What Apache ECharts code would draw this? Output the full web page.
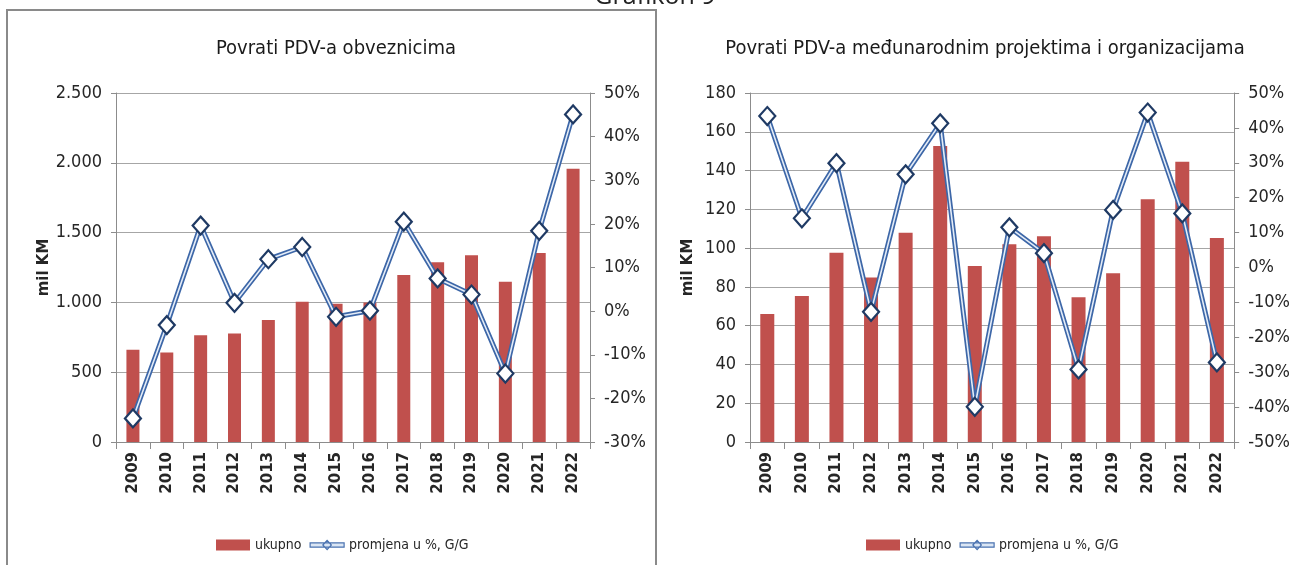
<!DOCTYPE html>
<html><head><meta charset="utf-8">
<script src="https://cdn.jsdelivr.net/npm/echarts@6/dist/echarts.min.js"></script>
<style>html,body{margin:0;padding:0;background:#fff}#c{width:1293px;height:565px}</style>
</head><body><div id="c"></div>
<script>
const years = ['2009','2010','2011','2012','2013','2014','2015','2016','2017','2018','2019','2020','2021','2022'];
const ukupnoObveznici = [660, 642, 764, 778, 874, 1005, 991, 1000, 1196, 1287, 1337, 1148, 1354, 1958];
const promjenaObveznici = [-24.6, -3.2, 19.6, 1.9, 11.9, 14.7, -1.3, 0.1, 20.5, 7.5, 3.8, -14.3, 18.4, 45.1];
const ukupnoProjekti = [66, 75.3, 97.6, 84.9, 107.9, 152.7, 90.8, 102, 106.1, 74.6, 87, 125.2, 144.6, 105.2];
const promjenaProjekti = [43.4, 14.1, 29.9, -12.7, 26.7, 41.3, -39.9, 11.5, 4.1, -29.2, 16.5, 44.4, 15.5, -27.2];
const titleLeft = 'Povrati PDV-a obveznicima';
const titleRight = 'Povrati PDV-a međunarodnim projektima i organizacijama';
const supTitle = 'Grafikon 9';
const unitName = 'mil KM';
const barName = 'ukupno';
const lineName = 'promjena u %, G/G';

const FONT = "'Liberation Sans Narrow', 'DejaVu Sans Condensed', 'Open Sans', sans-serif";
const RED = '#c0504d';
const txt = '#262626';
const axisCol = '#8c8c8c';
const gridCol = '#a6a6a6';
const LINE_ICON = 'path://M0,3 L40,3 L40,8 L0,8 Z M15,5.5 L20,0 L25,5.5 L20,11 Z';

function fmtThousands(v){ return String(v).replace(/\B(?=(\d{3})+(?!\d))/g,'.'); }

function xAxis(gi){
  return {type:'category', gridIndex:gi, data:years, boundaryGap:true,
    axisLine:{lineStyle:{color:axisCol,width:1}},
    axisTick:{show:true, alignWithLabel:false, length:7, lineStyle:{color:axisCol}},
    axisLabel:{rotate:90, margin:10, color:txt, fontSize:15, fontWeight:'bold', fontFamily:"'DejaVu Sans', sans-serif"}};
}
function yLeft(gi,max,interval,gap,fmt){
  return {type:'value', gridIndex:gi, min:0, max:max, interval:interval, position:'left',
    name:unitName, nameLocation:'middle', nameRotate:90, nameGap:gap,
    nameTextStyle:{color:txt, fontSize:15, fontWeight:'bold', fontFamily:"'DejaVu Sans', sans-serif"},
    axisLine:{show:true, lineStyle:{color:axisCol}},
    axisTick:{show:true, length:5, lineStyle:{color:axisCol}},
    splitLine:{show:true, lineStyle:{color:gridCol, width:1.2}},
    axisLabel:{margin:14, color:txt, fontSize:18, fontFamily:FONT, formatter:fmt}};
}
function yRight(gi,min,max){
  return {type:'value', gridIndex:gi, min:min, max:max, interval:10, position:'right',
    axisLine:{show:true, lineStyle:{color:axisCol}},
    axisTick:{show:true, length:5, lineStyle:{color:axisCol}},
    splitLine:{show:false},
    axisLabel:{margin:14, color:txt, fontSize:18, fontFamily:FONT, formatter:v=>v+'%'}};
}
function lineSeries(xi,yi,data){
  return [
    {type:'line', name:'_outline'+xi, xAxisIndex:xi, yAxisIndex:yi, data:data, z:3,
      symbol:'none', silent:true, lineStyle:{color:'#3d67a8', width:5}},
    {type:'line', name:lineName, xAxisIndex:xi, yAxisIndex:yi, data:data, z:4,
      symbol:'diamond', symbolSize:[16,18],
      itemStyle:{color:'#ffffff', borderColor:'#1f3a64', borderWidth:2.2},
      lineStyle:{color:'#e4ecf7', width:1.6}}
  ];
}
function legend(left){
  return {left:left, top:533, itemWidth:34, itemHeight:11, itemGap:8,
    data:[{name:barName, icon:'rect', itemStyle:{color:RED, borderWidth:0}},
          {name:lineName, icon:LINE_ICON, itemStyle:{color:'#dbe6f4', borderColor:'#4a72b0', borderWidth:1.2}}],
    textStyle:{fontSize:14, color:txt, fontFamily:FONT}};
}

const chart = echarts.init(document.getElementById('c'), null, {renderer:'canvas'});
chart.setOption({
  animation:false,
  backgroundColor:'#ffffff',
  graphic:[
    {type:'rect', shape:{x:7, y:10, width:649, height:570}, style:{fill:'none', stroke:'#8a8a8a', lineWidth:2}, z:-1},
    {type:'text', x:655, y:-16, style:{text:supTitle, fontSize:25, fontFamily:"'Open Sans', sans-serif", fill:'#222', align:'center'}, z:10}
  ],
  title:[
    {text:titleLeft, left:331, top:34, textAlign:'center', textStyle:{fontSize:20, fontWeight:'normal', color:'#1a1a1a', fontFamily:FONT}},
    {text:titleRight, left:980, top:34, textAlign:'center', textStyle:{fontSize:20, fontWeight:'normal', color:'#1a1a1a', fontFamily:FONT}}
  ],
  legend:[legend(211), legend(861)],
  grid:[
    {left:116, right:703, top:93, bottom:123, containLabel:false},
    {left:750, right:53, top:93, bottom:123, containLabel:false}
  ],
  xAxis:[xAxis(0), xAxis(1)],
  yAxis:[
    yLeft(0, 2500, 500, 62, v=>fmtThousands(v)),
    yRight(0, -30, 50),
    yLeft(1, 180, 20, 54, v=>String(v)),
    yRight(1, -50, 50)
  ],
  series:[
    {type:'bar', name:barName, xAxisIndex:0, yAxisIndex:0, data:ukupnoObveznici, barWidth:13, itemStyle:{color:RED}, z:2},
    ...lineSeries(0,1,promjenaObveznici),
    {type:'bar', name:barName, xAxisIndex:1, yAxisIndex:2, data:ukupnoProjekti, barWidth:14, itemStyle:{color:RED}, z:2},
    ...lineSeries(1,3,promjenaProjekti)
  ]
});
</script></body></html>
